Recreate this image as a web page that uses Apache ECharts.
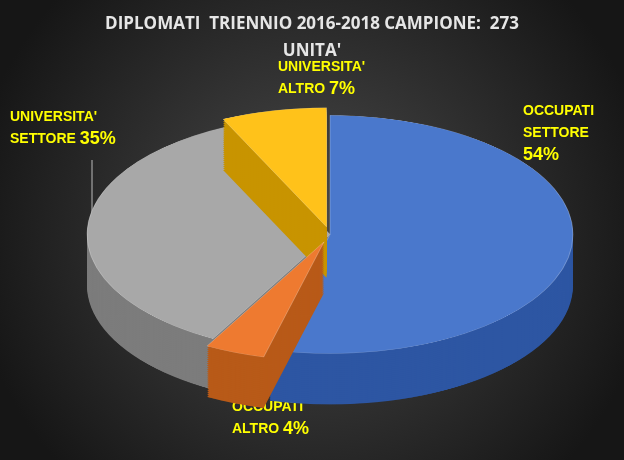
<!DOCTYPE html>
<html><head><meta charset="utf-8">
<script src="https://cdn.jsdelivr.net/npm/echarts@6/dist/echarts.min.js"></script>
<style>
html,body{margin:0;padding:0;width:624px;height:460px;overflow:hidden;background:#222}
#bg{position:absolute;left:0;top:0;width:624px;height:460px}
#pie{position:absolute;left:0;top:107px;width:624px;height:620px;transform:scaleY(0.49);transform-origin:0 0}
</style></head><body>
<div id="bg"></div><div id="pie"></div>
<script>
const categories = ["OCCUPATI SETTORE","OCCUPATI ALTRO","UNIVERSITA' SETTORE","UNIVERSITA' ALTRO"];
const values = [54, 4, 35, 7];
const exploded = [false, true, false, true];
const topColors = ["#4a78cc","#ee7a30","#a8a8a8","#ffc21a"];
const sideColors = ["#2d56a3","#b85a18","#7c7c7c","#c89400"];
const titleLines = ["DIPLOMATI  TRIENNIO 2016-2018 CAMPIONE:  273","UNITA'"];

const bg = echarts.init(document.getElementById('bg'));
const rich = {a:{fill:'#ffff00',font:'bold 14px "Liberation Sans", Arial',lineHeight:22},
              p:{fill:'#ffff00',font:'bold 18px "Liberation Sans", Arial',lineHeight:22}};
const lbl = (x,y,text,align)=>({type:'text',left:x,top:y,style:{text,rich,textAlign:align||'left'}});
bg.setOption({
  backgroundColor:{type:'radial',x:0.5,y:0.5,r:0.75,colorStops:[{offset:0,color:'#4a4a4a'},{offset:1,color:'#161616'}]},
  title:{text:titleLines.join('\n'),left:'center',top:6,textStyle:{color:'#e6e6e6',fontSize:17,fontWeight:'bold',lineHeight:27,fontFamily:'"Open Sans", Arial'}},
  graphic:[
    lbl(523,104,"{a|OCCUPATI}\n{a|SETTORE}\n{p|54%}"),
    lbl(232,400,"{a|OCCUPATI}\n{a|ALTRO }{p|4%}"),
    lbl(10,110,"{a|UNIVERSITA'}\n{a|SETTORE }{p|35%}"),
    lbl(278,60,"{a|UNIVERSITA'}\n{a|ALTRO }{p|7%}"),
    {type:'line',shape:{x1:92,y1:160,x2:92,y2:215},style:{stroke:'#bbb',lineWidth:1}}
  ]
});

const pie = echarts.init(document.getElementById('pie'));
const series = [];
const layers = 26, step = 4;
for (let i = layers; i >= 0; i--) {
  const top = i === 0;
  series.push({
    type:'pie', radius:243, center:[330, 260 + i*step], startAngle:90, clockwise:true,
    silent:true, animation:false, label:{show:false}, labelLine:{show:false},
    selectedMode:'multiple', selectedOffset:16,
    itemStyle:{borderWidth:top?1:0, borderColor:'rgba(255,255,255,0.25)'},
    data: categories.map((c,k)=>({name:c, value:values[k], selected:exploded[k],
      itemStyle:{color: top ? topColors[k] : sideColors[k]}}))
  });
}
pie.setOption({series});
</script></body></html>
